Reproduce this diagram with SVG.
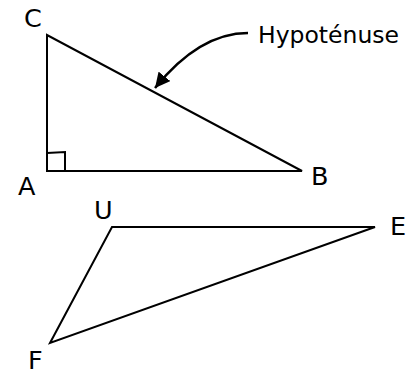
<svg xmlns="http://www.w3.org/2000/svg" width="414" height="374" viewBox="0 0 414 374">
<style>
.shape{fill:none;stroke:#000;stroke-width:2;stroke-linejoin:miter}
.lbl{font-family:"DejaVu Sans",Verdana,sans-serif;font-size:25.5px;fill:#000}
.note{font-family:"DejaVu Sans",Verdana,sans-serif;font-size:23.5px;fill:#000}
.conn{fill:none;stroke:#000;stroke-width:2.5}
</style>
<defs>
<marker id="arrow" viewBox="0 0 14 14" refX="14" refY="7" markerWidth="15" markerHeight="15" markerUnits="userSpaceOnUse" orient="auto">
<path d="M0,0 L14,7 L0,14 Z" fill="#000"/>
</marker>
</defs>
<rect width="414" height="374" fill="#fff"/>
<g id="triangle-ABC">
<polygon class="shape" points="47,35 47,171 302,171"/>
<path class="shape" d="M47,153 L65,152 L65,171"/>
</g>
<g id="label-C"><text class="lbl" x="24" y="27">C</text></g>
<g id="label-A"><text class="lbl" x="18" y="195">A</text></g>
<g id="label-B"><text class="lbl" x="311" y="185">B</text></g>
<g id="label-hypotenuse"><text class="note" x="258" y="43">Hypoténuse</text></g>
<g id="triangle-UEF">
<polygon class="shape" points="112,227 375,227 50,343"/>
</g>
<g id="label-U"><text class="lbl" x="94" y="219">U</text></g>
<g id="label-E"><text class="lbl" x="390" y="235">E</text></g>
<g id="label-F"><text class="lbl" x="28" y="369">F</text></g>
<g id="connectors">
<path class="conn" d="M248,33 C212,33 180,57 155,88" marker-end="url(#arrow)"/>
</g>
</svg>
